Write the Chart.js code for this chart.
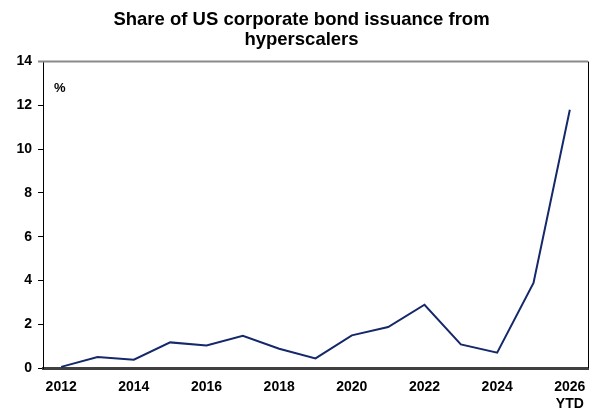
<!DOCTYPE html>
<html lang="en">
<head>
  <meta charset="UTF-8">
  <title>Share of US corporate bond issuance from hyperscalers</title>
  <script src="https://cdn.jsdelivr.net/npm/chart.js"></script>
  <style>
    html, body {
      margin: 0;
      padding: 0;
      background: white;
    }
    #wrap {
      width: 603px;
      height: 418px;
    }
  </style>
</head>
<body>
  <div id="wrap"><canvas id="grafico"></canvas></div>
  <script>
    const anos = ["2012", "2013", "2014", "2015", "2016", "2017", "2018", "2019",
                  "2020", "2021", "2022", "2023", "2024", "2025", "2026"];
    const rotulosX = ["2012", "", "2014", "", "2016", "", "2018", "",
                      "2020", "", "2022", "", "2024", "", ["2026", "YTD"]];
    const participacao = [0.05, 0.50, 0.38, 1.17, 1.03, 1.47, 0.88, 0.44,
                          1.49, 1.87, 2.89, 1.08, 0.70, 3.89, 11.8];
    const ticksY = [0, 2, 4, 6, 8, 10, 12, 14];

    const fonte = "'Liberation Sans', Arial, sans-serif";

    // moldura: linha de cima cinza, direita preta, e o "%" no canto
    const moldura = {
      id: "moldura",
      afterDraw(chart) {
        const { ctx, chartArea: a } = chart;
        ctx.save();
        ctx.strokeStyle = "#8a8a8a";
        ctx.lineWidth = 2;
        ctx.beginPath();
        ctx.moveTo(a.left - 5, a.top);
        ctx.lineTo(a.right, a.top);
        ctx.stroke();
        ctx.strokeStyle = "#000";
        ctx.lineWidth = 1;
        ctx.beginPath();
        ctx.moveTo(a.right + 0.5, a.top);
        ctx.lineTo(a.right + 0.5, a.bottom);
        ctx.stroke();
        ctx.fillStyle = "#000";
        ctx.font = "bold 13px " + fonte;
        ctx.textBaseline = "middle";
        ctx.fillText("%", a.left + 11, a.top + 27);
        ctx.restore();
      }
    };

    new Chart(document.getElementById("grafico"), {
      type: "line",
      data: {
        labels: anos,
        datasets: [{
          data: participacao,
          borderColor: "#14286a",
          borderWidth: 2,
          pointRadius: 0,
          tension: 0,
          fill: false
        }]
      },
      options: {
        responsive: true,
        maintainAspectRatio: false,
        animation: false,
        layout: { padding: { top: 5, right: 15, bottom: 0, left: 15 } },
        plugins: {
          legend: { display: false },
          tooltip: { enabled: false },
          title: {
            display: true,
            text: ["Share of US corporate bond issuance from", "hyperscalers"],
            color: "#000",
            font: { family: fonte, size: 18.5, weight: "bold", lineHeight: 1.07 },
            padding: { top: 5, bottom: 12 }
          }
        },
        scales: {
          x: {
            offset: true,
            grid: { display: false },
            border: { color: "#404040", width: 3 },
            ticks: {
              color: "#000",
              font: { family: fonte, size: 14, weight: "bold" },
              autoSkip: false,
              maxRotation: 0,
              padding: 3,
              callback: (v, i) => rotulosX[i]
            },
            afterFit(s) { s.height = 50; }
          },
          y: {
            min: 0,
            max: 14,
            afterBuildTicks(s) { s.ticks = ticksY.map(v => ({ value: v })); },
            grid: { drawOnChartArea: false, drawTicks: true, tickLength: 5, color: "#000" },
            border: { color: "#000", width: 1 },
            ticks: {
              color: "#000",
              font: { family: fonte, size: 14, weight: "bold" },
              padding: 6
            },
            afterFit(s) { s.width = 28; }
          }
        }
      },
      plugins: [moldura]
    });
  </script>
</body>
</html>
